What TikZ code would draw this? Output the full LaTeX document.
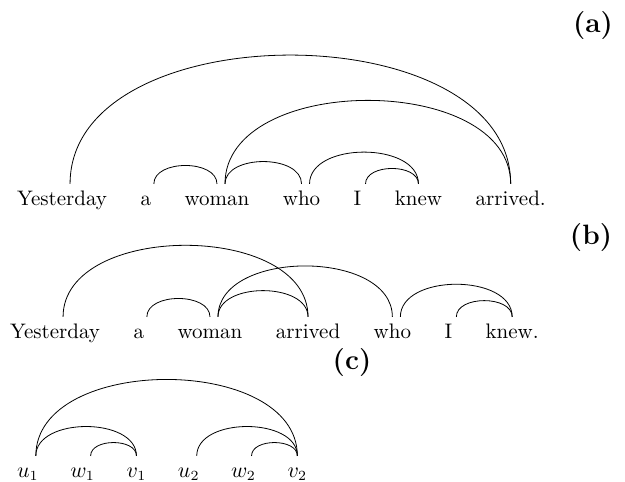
\documentclass[tikz,border=0pt]{standalone}
\usetikzlibrary{positioning}

\begin{document}
\begin{tikzpicture}[x=0.5pt,y=0.5pt,node distance=9.7pt,word/.style={font=\fontsize{10.5}{12}\selectfont,inner sep=3.33pt,text height=7pt,text depth=2pt},lab/.style={font=\fontsize{14}{16}\selectfont\bfseries,anchor=base},link/.style={out=90,in=90}]
\useasboundingbox (0,0) rectangle (625,-481);
% (a) original order
\node[lab] (la) at (593,-33){(a)};
\node[word,anchor=base west] (a1) at (10,-205){Yesterday};
\node[word,right=of a1] (a2){a};
\node[word,right=of a2] (a3){woman};
\node[word,right=of a3] (a4){who};
\node[word,right=of a4] (a5){I};
\node[word,right=of a5] (a6){knew};
\node[word,right=of a6] (a7){arrived.};
\draw([xshift=4pt]a1.north) to[link] (a7.north);
\draw([xshift=4pt]a2.north) to[link] (a3.north);
\draw([xshift=4pt]a3.north) to[link] (a4.north);
\draw([xshift=4pt]a3.north) to[link] (a7.north);
\draw([xshift=4pt]a4.north) to[link] (a6.north);
\draw([xshift=4pt]a5.north) to[link] (a6.north);
% (b) extraposed
\node[lab] (lb) at (591,-244){(b)};
\node[word,anchor=base west] (b1) at (3,-338){Yesterday};
\node[word,right=of b1] (b2){a};
\node[word,right=of b2] (b3){woman};
\node[word,right=of b3] (b4){arrived};
\node[word,right=of b4] (b5){who};
\node[word,right=of b5] (b6){I};
\node[word,right=of b6] (b7){knew.};
\draw([xshift=4pt]b1.north) to[link] (b4.north);
\draw([xshift=4pt]b2.north) to[link] (b3.north);
\draw([xshift=4pt]b3.north) to[link] (b4.north);
\draw([xshift=4pt]b3.north) to[link] (b5.north);
\draw([xshift=4pt]b5.north) to[link] (b7.north);
\draw([xshift=4pt]b6.north) to[link] (b7.north);
% (c) schema
\node[lab] (lc) at (352,-369){(c)};
\begin{scope}[node distance=8.8pt]
\node[word,anchor=base west] (c1) at (10,-477){$u_1$};
\node[word,right=of c1] (c2){$w_1$};
\node[word,right=of c2] (c3){$v_1$};
\node[word,right=of c3] (c4){$u_2$};
\node[word,right=of c4] (c5){$w_2$};
\node[word,right=of c5] (c6){$v_2$};
\end{scope}
\draw([xshift=4pt]c1.north) to[link] (c6.north);
\draw([xshift=4pt]c1.north) to[link] (c3.north);
\draw([xshift=4pt]c2.north) to[link] (c3.north);
\draw([xshift=4pt]c4.north) to[link] (c6.north);
\draw([xshift=4pt]c5.north) to[link] (c6.north);
\end{tikzpicture}
\end{document}
